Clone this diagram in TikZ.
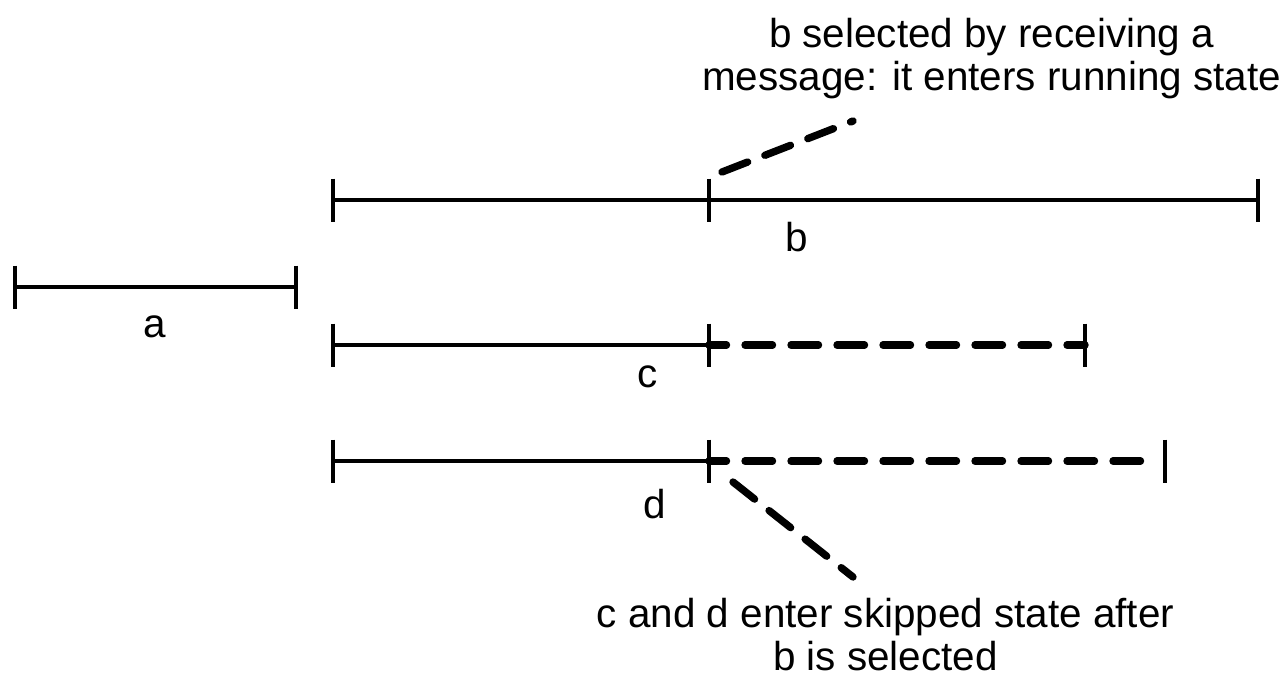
\documentclass[tikz,border=0pt]{standalone}
\usepackage{fontspec}
\setmainfont{Liberation Sans}
\tikzset{
	runline/.style={line width=2.3pt},
	skipline/.style={line width=4.2pt, line cap=round, dash pattern=on 0.55cm off 0.37cm, dash phase=0.2cm}
}

\begin{document}
\begin{tikzpicture}[runline, font=\fontsize{23}{24.5}\selectfont]
		\newcommand{\tickmark}[1]{ % #1: coordinate of the tick
			\draw ([yshift=0.43cm]#1) -- ([yshift=-0.43cm]#1);
		}
		\useasboundingbox (0,0) rectangle (25.76,-13.64);
		
		%task a
		\coordinate (a0) at (0.3,-5.74);
		\coordinate (a1) at (5.92,-5.74);
		\draw (a0) -- (a1);
		\tickmark{a0} \tickmark{a1}
		\node (la) at (3.1,-6.54) {a};
		
		%task b
		\coordinate (b0) at (6.66,-4);
		\coordinate (b1) at (14.18,-4);
		\coordinate (b2) at (25.16,-4);
		\draw (b0) -- (b2);
		\tickmark{b0} \tickmark{b1} \tickmark{b2}
		\node (lb) at (15.94,-4.74) {b};
		
		%task c
		\coordinate (c0) at (6.66,-6.9);
		\coordinate (c1) at (14.18,-6.9);
		\coordinate (c2) at (21.7,-6.9);
		\draw (c0) -- (c1);
		\tickmark{c0} \tickmark{c1} \tickmark{c2}
		\draw[skipline] (c1) -- (c2);
		\node (lc) at (12.96,-7.54) {c};
		
		%task d
		\coordinate (d0) at (6.66,-9.22);
		\coordinate (d1) at (14.18,-9.22);
		\coordinate (d2) at (23.3,-9.22);
		\draw (d0) -- (d1);
		\tickmark{d0} \tickmark{d1} \tickmark{d2}
		\draw[skipline, shorten >=0.2cm] (d1) -- (d2);
		\node (ld) at (13.1,-10.08) {d};
		
		%notes
		\node[align=center] (runnote) at (19.83,-1.18) {b selected by receiving a\\message: it enters running state};
		\coordinate (run0) at (14.44,-3.44);
		\coordinate (run1) at (17.06,-2.42);
		\draw[skipline, dash phase=0cm] (run0) -- (run1);
		
		\node[align=center] (skipnote) at (17.71,-12.7) {c and d enter skipped state after\\b is selected};
		\coordinate (skip0) at (14.66,-9.64);
		\coordinate (skip1) at (17.06,-11.54);
		\draw[skipline, dash phase=0cm] (skip0) -- (skip1);
		
	\end{tikzpicture}
\end{document}
